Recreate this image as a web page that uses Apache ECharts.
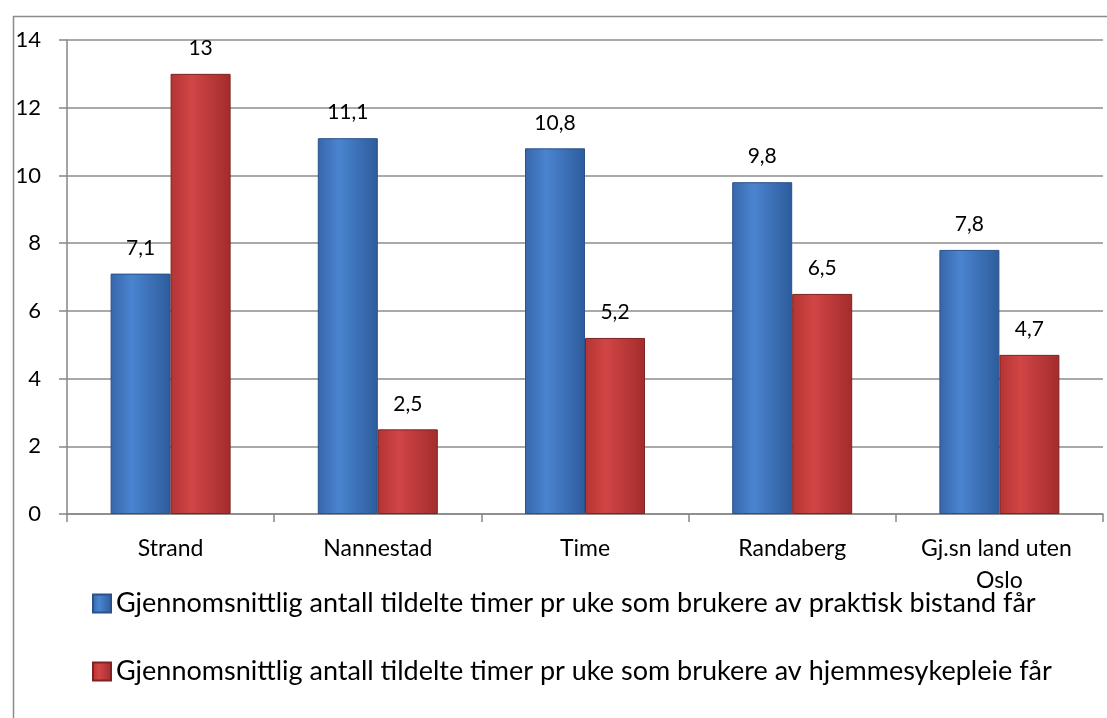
<!DOCTYPE html>
<html>
<head>
<meta charset="utf-8">
<script src="https://cdn.jsdelivr.net/npm/echarts@6/dist/echarts.min.js"></script>
<style>
  html, body { margin: 0; padding: 0; background: #fff; }
  #main { width: 1107px; height: 718px; }
</style>
</head>
<body>
<div id="main"></div>
<script>
// kategorier og verdier
var kommuner = ['Strand', 'Nannestad', 'Time', 'Randaberg', 'Gj.sn land uten Oslo'];
var praktiskBistand = [7.1, 11.1, 10.8, 9.8, 7.8];
var hjemmesykepleie = [13, 2.5, 5.2, 6.5, 4.7];
var navnPraktisk = 'Gjennomsnittlig antall tildelte timer pr uke som brukere av praktisk bistand får';
var navnHjemme = 'Gjennomsnittlig antall tildelte timer pr uke som brukere av hjemmesykepleie får';
var yTicks = [0, 2, 4, 6, 8, 10, 12, 14];

var font = 'Lato, "Open Sans", sans-serif';

function grad(a, b, c) {
  return new echarts.graphic.LinearGradient(0, 0, 1, 0, [
    { offset: 0, color: a },
    { offset: 0.35, color: b },
    { offset: 1, color: c }
  ]);
}

function komma(p) {
  return String(p.value).replace('.', ',');
}

var myChart = echarts.init(document.getElementById('main'));
var option = {
  backgroundColor: '#fff',
  textStyle: { fontFamily: font },
  graphic: [{
    type: 'rect',
    left: 11, top: 14,
    shape: { width: 1200, height: 800 },
    style: { fill: 'none', stroke: '#8c8c8c', lineWidth: 1.5 },
    silent: true
  }],
  grid: { left: 67, right: 4, top: 40, bottom: 204 },
  legend: {
    orient: 'vertical',
    left: 87, top: 585,
    icon: 'rect',
    itemWidth: 18, itemHeight: 18,
    itemGap: 41,
    textStyle: { fontSize: 27, color: '#000', fontFamily: font, lineHeight: 26 },
    data: [navnPraktisk, navnHjemme]
  },
  xAxis: {
    type: 'category',
    data: kommuner,
    axisLine: { lineStyle: { color: '#868686', width: 1.5 } },
    axisTick: { show: true, interval: 0, length: 8, lineStyle: { color: '#868686', width: 1.5 } },
    axisLabel: {
      interval: 0,
      color: '#000', fontSize: 23, margin: 19, lineHeight: 32,
      width: 180, overflow: 'break', fontFamily: font
    }
  },
  yAxis: {
    type: 'value',
    min: yTicks[0], max: yTicks[yTicks.length - 1], interval: 2,
    axisLine: { show: true, lineStyle: { color: '#868686', width: 1.5 } },
    axisTick: { show: true, length: 8, lineStyle: { color: '#868686', width: 1.5 } },
    splitLine: { lineStyle: { color: '#8c8c8c', width: 1.5 } },
    axisLabel: { color: '#000', fontSize: 22, margin: 26, fontFamily: font }
  },
  series: [
    {
      name: navnPraktisk,
      type: 'bar',
      data: praktiskBistand,
      barWidth: 60,
      barGap: '0%',
      itemStyle: {
        color: grad('#3766aa', '#4a84d0', '#2d5c9c'),
        borderColor: '#2a5188', borderWidth: 1
      },
      label: {
        show: true, position: 'top', distance: 15,
        color: '#000', fontSize: 21, fontFamily: font,
        formatter: komma
      }
    },
    {
      name: navnHjemme,
      type: 'bar',
      data: hjemmesykepleie,
      barWidth: 60,
      itemStyle: {
        color: grad('#b33434', '#d24545', '#a32c2c'),
        borderColor: '#7e2222', borderWidth: 1
      },
      label: {
        show: true, position: 'top', distance: 15,
        color: '#000', fontSize: 21, fontFamily: font,
        formatter: komma
      }
    }
  ]
};
myChart.setOption(option);
</script>
</body>
</html>
